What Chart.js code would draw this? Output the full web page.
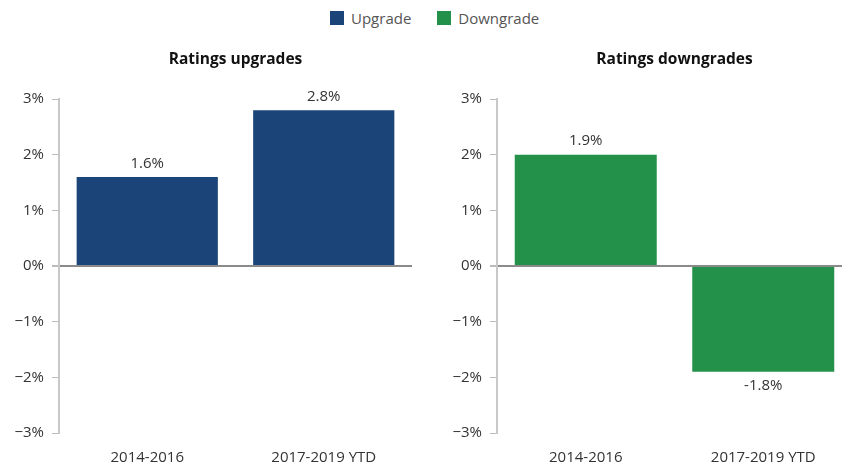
<!DOCTYPE html>
<html>
<head>
<meta charset="utf-8">
<script src="https://cdn.jsdelivr.net/npm/chart.js@4.4.0/dist/chart.umd.min.js"></script>
<style>
  body { margin: 0; width: 842px; height: 468px; overflow: hidden; background: #fff; font-family: "Open Sans", sans-serif; position: relative; }
  #legend { position: absolute; left: 330px; top: 8px; display: flex; align-items: center; font-size: 15px; color: #555; }
  #legend .item { display: flex; align-items: center; margin-right: 26px; }
  #legend .box { width: 14px; height: 14px; margin-right: 7px; }
  .panel { position: absolute; top: 36px; }
</style>
</head>
<body>
<div id="legend"></div>
<div class="panel" style="left:0px"><canvas id="upChart" width="420" height="432"></canvas></div>
<div class="panel" style="left:420px"><canvas id="downChart" width="432" height="432"></canvas></div>
<script>
const categories = ["2014-2016", "2017-2019 YTD"];
const seriesNames = ["Upgrade", "Downgrade"];
const seriesColors = ["#1B4579", "#24914A"];
const panelTitles = ["Ratings upgrades", "Ratings downgrades"];

// bar heights as drawn, and the labels printed on them
const upgradeValues = [1.6, 2.8];
const upgradeLabels = ["1.6%", "2.8%"];
const downgradeValues = [2.0, -1.9];
const downgradeLabels = ["1.9%", "-1.8%"];

const yTicks = [-3, -2, -1, 0, 1, 2, 3];

const FONT = "'Open Sans', sans-serif";

// shared legend
const legendEl = document.getElementById('legend');
seriesNames.forEach((name, i) => {
    const item = document.createElement('div');
    item.className = 'item';
    item.innerHTML = '<span class="box" style="background:' + seriesColors[i] + '"></span>' + name;
    legendEl.appendChild(item);
});

// value text above / below each bar, and the panel title centred on the plot area
const barLabels = {
    id: 'barLabels',
    afterDatasetsDraw(chart) {
        const ctx = chart.ctx;
        const meta = chart.getDatasetMeta(0);
        const opts = chart.options.plugins.barLabels;
        ctx.save();
        ctx.font = "15px " + FONT;
        ctx.fillStyle = "#333";
        ctx.textAlign = "center";
        meta.data.forEach((bar, i) => {
            const v = chart.data.datasets[0].data[i];
            if (v >= 0) {
                ctx.textBaseline = "bottom";
                ctx.fillText(opts.texts[i], bar.x, bar.y - 6);
            } else {
                ctx.textBaseline = "top";
                ctx.fillText(opts.texts[i], bar.x, bar.y + 6);
            }
        });
        // title
        const area = chart.chartArea;
        ctx.font = "bold 15.5px " + FONT;
        ctx.fillStyle = "#111";
        ctx.textBaseline = "middle";
        ctx.fillText(opts.title, (area.left + area.right) / 2, 24);
        ctx.restore();
    }
};

function makeChart(canvasId, title, name, values, labels, color, axisWidth, rightPad) {
    return new Chart(document.getElementById(canvasId), {
        type: 'bar',
        data: {
            labels: categories,
            datasets: [{
                label: name,
                data: values,
                backgroundColor: color,
                categoryPercentage: 0.8,
                barPercentage: 1.0
            }]
        },
        options: {
            responsive: false,
            animation: false,
            layout: { padding: { left: 0, right: rightPad, top: 63, bottom: 0 } },
            plugins: {
                legend: { display: false },
                tooltip: { enabled: false },
                title: { display: false },
                barLabels: { texts: labels, title: title }
            },
            scales: {
                x: {
                    grid: { display: false, drawTicks: false },
                    border: { display: false },
                    ticks: { color: '#333', font: { family: FONT, size: 15 }, padding: 16 },
                    afterFit: function(scale) { scale.height = 35; }
                },
                y: {
                    min: yTicks[0],
                    max: yTicks[yTicks.length - 1],
                    afterBuildTicks: function(scale) {
                        scale.ticks = yTicks.map(v => ({ value: v }));
                    },
                    afterFit: function(scale) { scale.width = axisWidth; },
                    grid: {
                        color: ctx => ctx.tick && ctx.tick.value === 0 ? '#8a8a8a' : 'rgba(0,0,0,0)',
                        lineWidth: ctx => ctx.tick && ctx.tick.value === 0 ? 2 : 1,
                        tickColor: '#bbb',
                        tickLength: 7
                    },
                    border: { display: true, color: '#c8c8c8', width: 2 },
                    ticks: {
                        color: '#333',
                        padding: 8,
                        font: { family: FONT, size: 15 },
                        callback: function(value) {
                            return (value < 0 ? '\u2212' + Math.abs(value) : value) + '%';
                        }
                    }
                }
            }
        },
        plugins: [barLabels]
    });
}

makeChart('upChart', panelTitles[0], seriesNames[0], upgradeValues, upgradeLabels, seriesColors[0], 59, 8);
makeChart('downChart', panelTitles[1], seriesNames[1], downgradeValues, downgradeLabels, seriesColors[1], 77, 0);
</script>
</body>
</html>
